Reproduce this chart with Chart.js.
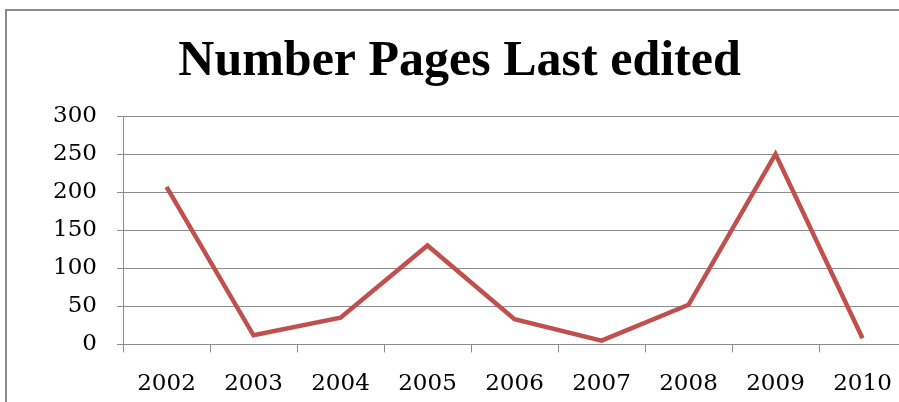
<!DOCTYPE html>
<html>
<head>
<meta charset="utf-8">
<script src="https://cdn.jsdelivr.net/npm/chart.js@4/dist/chart.umd.min.js"></script>
<style>
    html, body { margin: 0; padding: 0; background: #fff; overflow: hidden; }
    #frame {
        position: absolute;
        left: 5px;
        top: 9px;
        width: 930px;
        height: 420px;
        border: 2px solid #8c8c8c;
        background: #fff;
    }
</style>
</head>
<body>
<div id="frame"><canvas id="chart" width="930" height="420"></canvas></div>
<script>
// Chart data
const years = ['2002', '2003', '2004', '2005', '2006', '2007', '2008', '2009', '2010'];
const pages = [207, 12, 35, 130, 33, 5, 52, 250, 8];
const yTicks = [0, 50, 100, 150, 200, 250, 300];

const axisFont = { family: "'DejaVu Serif', serif", size: 23 };

new Chart(document.getElementById('chart'), {
    type: 'line',
    data: {
        labels: years,
        datasets: [{
            label: 'Pages',
            data: pages,
            borderColor: '#c0504d',
            borderWidth: 4.5,
            pointRadius: 0,
            tension: 0,
            fill: false
        }]
    },
    options: {
        responsive: false,
        animation: false,
        devicePixelRatio: 1,
        layout: { padding: { left: 6, right: 31, top: 0, bottom: 15 } },
        plugins: {
            legend: { display: false },
            tooltip: { enabled: false },
            title: {
                display: true,
                text: 'Number Pages Last edited',
                color: '#000',
                font: { family: "'Liberation Serif', serif", size: 50, weight: 'bold' },
                padding: { top: 21, bottom: 24 }
            }
        },
        scales: {
            x: {
                offset: true,
                grid: {
                    offset: true,
                    drawOnChartArea: false,
                    drawTicks: true,
                    tickLength: 8,
                    color: '#8c8c8c'
                },
                border: { color: '#8c8c8c', width: 1 },
                ticks: { color: '#000', font: axisFont, padding: 18, maxRotation: 0 }
            },
            y: {
                min: 0,
                max: 300,
                afterBuildTicks: function(axis) {
                    axis.ticks = yTicks.map(v => ({ value: v }));
                },
                grid: {
                    color: '#8c8c8c',
                    tickLength: 6,
                    lineWidth: 1
                },
                border: { color: '#8c8c8c', width: 1 },
                ticks: { color: '#000', font: axisFont, padding: 20 },
                afterFit: function(axis) {
                    axis.width = 110;
                }
            }
        }
    }
});
</script>
</body>
</html>
